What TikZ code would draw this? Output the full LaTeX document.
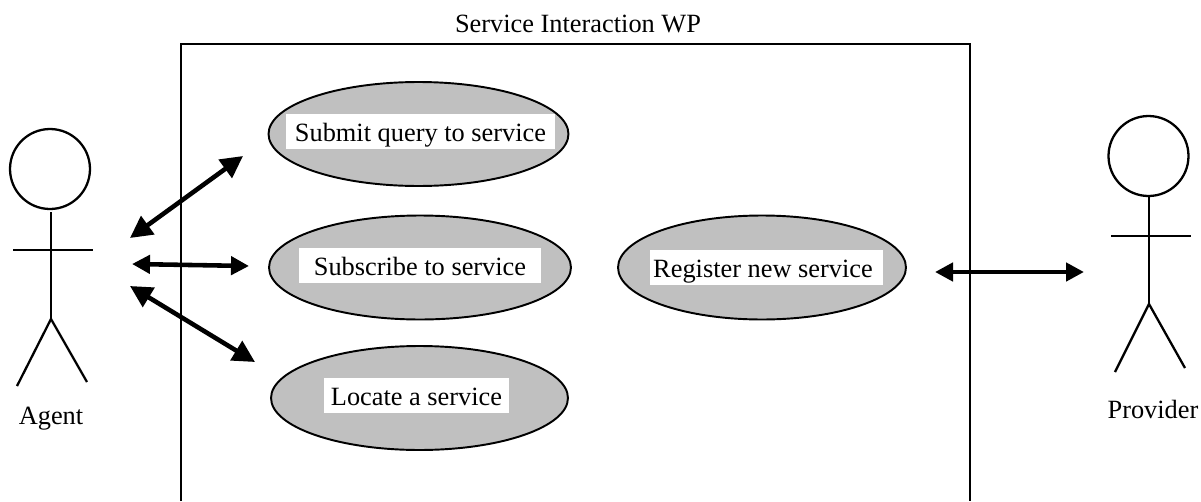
\documentclass[tikz,border=0pt]{standalone}
\usepackage{fontspec}
\setmainfont{Liberation Serif}
\usetikzlibrary{arrows.meta,positioning,shapes.geometric}
\definecolor{casegray}{HTML}{C0C0C0}
\tikzset{
    usecase/.style={draw, ellipse, fill=casegray, line width=1.1pt, minimum width=6cm, minimum height=2.08cm, inner sep=0pt},
    usetext/.style={fill=white, font=\fontsize{15pt}{18pt}\selectfont, inner sep=0pt, minimum height=0.7cm, text height=0.38cm, text depth=0pt},
    plain/.style={font=\fontsize{15pt}{18pt}\selectfont, inner sep=0pt, anchor=base},
    bigarrow/.style={{Stealth[length=#1,width=#1,inset=0pt]}-{Stealth[length=#1,width=#1,inset=0pt]}, line width=2.6pt},
    bigarrow/.default=0.36cm,
    limb/.style={line width=1.3pt},
    head/.style={draw, circle, line width=1.3pt, minimum size=1.6cm, inner sep=0pt}
}
\begin{document}
\begin{tikzpicture}[x=0.02cm, y=-0.02cm]
    \useasboundingbox (0,0) rectangle (1201,501);
    % system box, open at the bottom
    \coordinate (bl) at (181,501);
    \coordinate (tl) at (181,44);
    \coordinate (tr) at (970,44);
    \coordinate (br) at (970,501);
    \draw[line width=1.4pt] (bl) -- (tl) -- (tr) -- (br);
    \node[plain] (title) at (578,32.5) {Service Interaction WP};

    % use cases
    \node[usecase] (submit) at (418.5,134) {};
    \node[usetext, minimum width=5.38cm] (submittext) at (420.5,131.5) {Submit query to service};
    \node[usecase, minimum width=6.04cm] (subscribe) at (420,267.5) {};
    \node[usetext, minimum width=4.84cm] (subscribetext) at (420,265.5) {Subscribe to service};
    \node[usecase, minimum width=5.94cm] (locate) at (419.5,398) {};
    \node[usetext, minimum width=3.7cm] (locatetext) at (416.5,395.5) {Locate a service};
    \node[usecase, minimum width=5.76cm] (register) at (762,267.5) {};
    \node[usetext, minimum width=4.66cm] (registertext) at (766.5,267.5) {Register new service\rule{0.14cm}{0pt}};

    % agent
    \node[head] (agenthead) at (50,169) {};
    \coordinate (agenttop) at (51,212);
    \coordinate (agentfork) at (51,319);
    \coordinate (agentarml) at (13,250);
    \coordinate (agentarmr) at (93,250);
    \coordinate (agentfootl) at (17,386);
    \coordinate (agentfootr) at (87,382);
    \draw[limb] (agenttop) -- (agentfork);
    \draw[limb] (agentarml) -- (agentarmr);
    \draw[limb] (agentfootl) -- (agentfork) -- (agentfootr);
    \node[plain] (agent) at (51,424) {Agent};

    % provider
    \node[head] (providerhead) at (1148.5,156) {};
    \coordinate (providertop) at (1149,197);
    \coordinate (providerfork) at (1149,304);
    \coordinate (providerarml) at (1111,236);
    \coordinate (providerarmr) at (1191,236);
    \coordinate (providerfootl) at (1115,372);
    \coordinate (providerfootr) at (1185,368);
    \draw[limb] (providertop) -- (providerfork);
    \draw[limb] (providerarml) -- (providerarmr);
    \draw[limb] (providerfootl) -- (providerfork) -- (providerfootr);
    \node[plain] (provider) at (1153,418) {Provider};

    % connectors
    \coordinate (agenta) at (130,238);
    \coordinate (agentb) at (132,264);
    \coordinate (agentc) at (130,286);
    \coordinate (submitend) at (243,156);
    \coordinate (subscribeend) at (249,266);
    \coordinate (locateend) at (255,362);
    \coordinate (registerend) at (935,272);
    \coordinate (providerend) at (1084,272);
    \draw[bigarrow=0.44cm] (agenta) -- (submitend);
    \draw[bigarrow] (agentb) -- (subscribeend);
    \draw[bigarrow=0.44cm] (agentc) -- (locateend);
    \draw[bigarrow] (registerend) -- (providerend);
\end{tikzpicture}
\end{document}
